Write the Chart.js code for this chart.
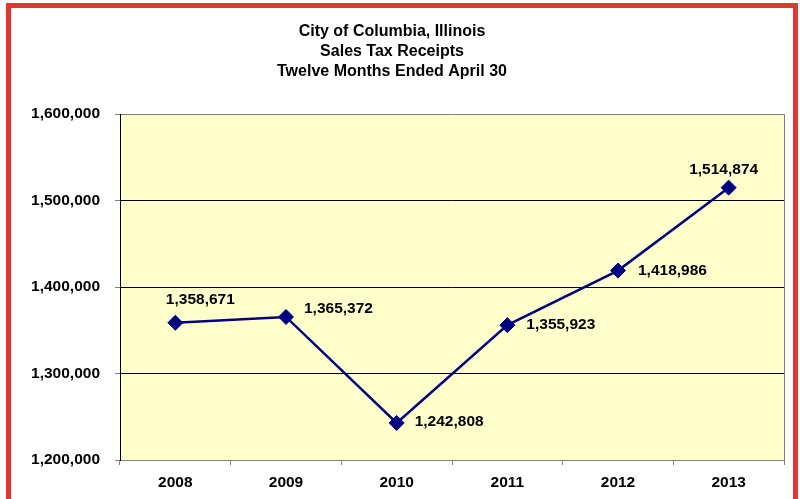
<!DOCTYPE html>
<html lang="en">

<head>
    <meta charset="UTF-8">
    <title>Sales Tax Receipts</title>
    <script src="https://cdn.jsdelivr.net/npm/chart.js@4.4.0/dist/chart.umd.min.js"></script>
    <style>
        body { margin: 0; background: #fff; }
        #frame {
            position: absolute; left: 6px; top: 3px;
            width: 782px; height: 600px;
            border: 5px solid #E53530;
            pointer-events: none;
        }
        #chart { position: absolute; left: 0; top: 0; }
    </style>
</head>

<body>
    <canvas id="chart" width="800" height="499"></canvas>
    <div id="frame"></div>
    <script>
        const years = ['2008', '2009', '2010', '2011', '2012', '2013'];
        const receipts = [1358671, 1365372, 1242808, 1355923, 1418986, 1514874];
        const titleLines = ['City of Columbia, Illinois', 'Sales Tax Receipts', 'Twelve Months Ended April 30'];

        // where each value label sits relative to its point
        const labelPlace = [
            { align: 'center', dx: 25, dy: -23 },
            { align: 'left', dx: 18, dy: -8 },
            { align: 'left', dx: 18, dy: -1 },
            { align: 'left', dx: 19, dy: 0 },
            { align: 'left', dx: 20, dy: 0 },
            { align: 'center', dx: -5, dy: -18 }
        ];

        const fontFamily = '"Liberation Sans", Arial, sans-serif';
        const fmt = v => v.toLocaleString('en-US');

        const plotBox = {
            id: 'plotBox',
            beforeDraw(chart) {
                const { ctx, chartArea: a } = chart;
                ctx.save();
                ctx.fillStyle = '#FFFFCC';
                ctx.fillRect(a.left, a.top, a.right - a.left, a.bottom - a.top);
                ctx.strokeStyle = '#808080';
                ctx.lineWidth = 1;
                ctx.beginPath();
                ctx.moveTo(a.right + 0.5, a.top);
                ctx.lineTo(a.right + 0.5, a.bottom);
                ctx.stroke();
                ctx.restore();
            }
        };

        const valueLabels = {
            id: 'valueLabels',
            afterDatasetsDraw(chart) {
                const ctx = chart.ctx;
                const pts = chart.getDatasetMeta(0).data;
                ctx.save();
                ctx.font = 'bold 15.5px ' + fontFamily;
                ctx.fillStyle = '#000';
                ctx.textBaseline = 'middle';
                pts.forEach((p, i) => {
                    const pl = labelPlace[i];
                    ctx.textAlign = pl.align;
                    ctx.fillText(fmt(receipts[i]), p.x + pl.dx, p.y + pl.dy);
                });
                ctx.restore();
            }
        };

        const ctx = document.getElementById('chart').getContext('2d');
        const myChart = new Chart(ctx, {
            type: 'line',
            data: {
                labels: years,
                datasets: [{
                    data: receipts,
                    borderColor: '#000080',
                    backgroundColor: '#000080',
                    borderWidth: 2.5,
                    pointStyle: 'rectRot',
                    pointRadius: 7.5,
                    pointBorderWidth: 1,
                    tension: 0
                }]
            },
            options: {
                responsive: false,
                animation: false,
                layout: { padding: { left: 0, right: 16, top: 0, bottom: 0 } },
                plugins: {
                    legend: { display: false },
                    tooltip: { enabled: false },
                    title: {
                        display: true,
                        text: titleLines,
                        color: '#000',
                        font: { family: fontFamily, size: 16, weight: 'bold', lineHeight: 1.25 },
                        padding: { top: 22, bottom: 32 }
                    }
                },
                scales: {
                    x: {
                        offset: true,
                        grid: {
                            offset: true,
                            drawOnChartArea: false,
                            drawTicks: true,
                            tickLength: 5,
                            color: '#808080'
                        },
                        border: { color: '#808080', width: 1 },
                        ticks: {
                            color: '#000',
                            padding: 8,
                            font: { family: fontFamily, size: 15.5, weight: 'bold' }
                        },
                        afterFit: s => { s.height = 39; }
                    },
                    y: {
                        min: 1200000,
                        max: 1600000,
                        grid: {
                            color: c => (c.tick && c.tick.value === 1600000) ? '#808080' : '#000',
                            tickColor: '#808080',
                            tickLength: 5,
                            lineWidth: 1
                        },
                        border: { color: '#000', width: 1 },
                        ticks: {
                            stepSize: 100000,
                            color: '#000',
                            padding: 15,
                            font: { family: fontFamily, size: 15.5, weight: 'bold' },
                            callback: v => fmt(v)
                        },
                        afterFit: s => { s.width = 120; }
                    }
                }
            },
            plugins: [plotBox, valueLabels]
        });
    </script>
</body>

</html>
